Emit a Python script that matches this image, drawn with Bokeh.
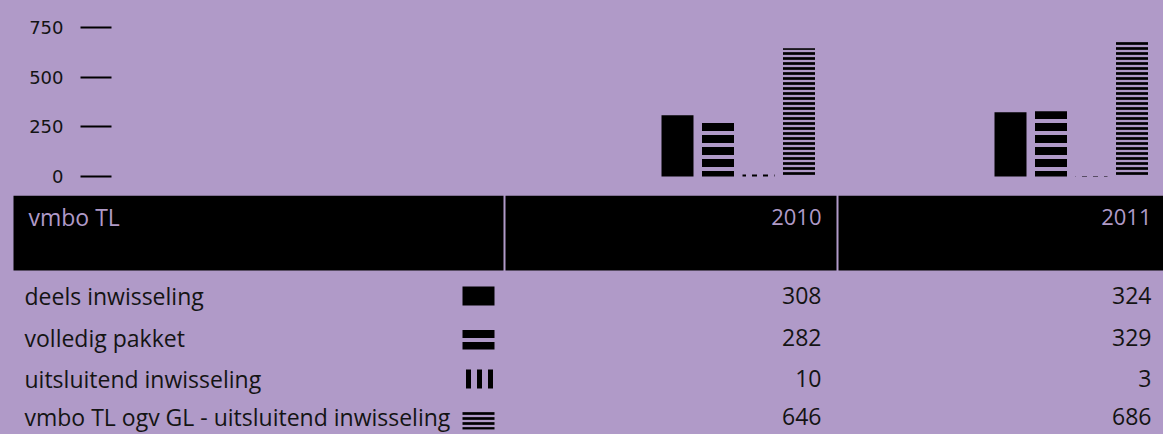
from bokeh.plotting import figure
from bokeh.layouts import column
from bokeh.models import Range1d, LinearAxis, FixedTicker
from bokeh.core.properties import value
from bokeh.embed import file_html
from bokeh.resources import INLINE

# ---------------- data ----------------
categories = ["deels inwisseling", "volledig pakket", "uitsluitend inwisseling",
              "vmbo TL ogv GL - uitsluitend inwisseling"]
years = ["2010", "2011"]
values_2010 = [308, 282, 10, 646]
values_2011 = [324, 329, 3, 686]
y_ticks = [0, 250, 500, 750]
table_title = "vmbo TL"

# ---------------- layout / style ----------------
PURPLE = "#b09ac8"
INK = "#141414"
FONT = "Open Sans"
PAGE_W, PAGE_H = 1163, 434
HEADER_TOP = 195
HEADER_BOTTOM = 270
HT = HEADER_TOP
HB = PAGE_H - HT

BASE = 176.0          # page y of value 0
PX_PER_UNIT = 0.1985  # pixels per unit
AXIS_X = 111

COL_LEFT = [504, 837]
BAR_OFFSET = 157
PITCH = 40.5
BAR_W = 32

styles = [
    dict(fill_color="black"),
    dict(fill_color=PURPLE, hatch_pattern="horizontal_line", hatch_color="black",
         hatch_weight=8, hatch_scale=12),
    dict(fill_color=PURPLE, hatch_pattern="vertical_line", hatch_color="black",
         hatch_weight=5, hatch_scale=11),
    dict(fill_color=PURPLE, hatch_pattern="horizontal_line", hatch_color="black",
         hatch_weight=2.7, hatch_scale=5),
]

# ---------------- chart ----------------
top = figure(width=PAGE_W, height=HT,
             x_range=Range1d(AXIS_X, PAGE_W),
             y_range=Range1d(-(HEADER_TOP - BASE) / PX_PER_UNIT, BASE / PX_PER_UNIT),
             toolbar_location=None, output_backend="svg",
             min_border_left=AXIS_X, min_border_right=0,
             min_border_top=0, min_border_bottom=0,
             x_axis_location=None, y_axis_location=None,
             background_fill_color=PURPLE, border_fill_color=PURPLE,
             outline_line_color=None, frame_align=False)
top.xgrid.visible = False
top.ygrid.visible = False

ax = LinearAxis(ticker=FixedTicker(ticks=y_ticks))
ax.axis_line_color = None
ax.major_tick_out = 31
ax.major_tick_in = 0
ax.major_tick_line_width = 2
ax.major_tick_line_color = "black"
ax.minor_tick_line_color = None
ax.major_label_standoff = 17
ax.major_label_text_font = "DejaVu Sans"
ax.major_label_text_font_size = "18px"
ax.major_label_text_color = INK
top.add_layout(ax, "left")

series_values = [[values_2010[i], values_2011[i]] for i in range(len(categories))]
for i, vals in enumerate(series_values):
    xs = [COL_LEFT[g] + BAR_OFFSET + i * PITCH + BAR_W / 2 for g in range(len(years))]
    top.vbar(x=xs, width=BAR_W, top=vals, bottom=0, line_color=None, **styles[i])

# ---------------- table ----------------
tab = figure(width=PAGE_W, height=HB,
             x_range=Range1d(0, PAGE_W),
             y_range=Range1d(HEADER_TOP + HB, HEADER_TOP),
             toolbar_location=None, output_backend="svg",
             min_border_left=0, min_border_right=0,
             min_border_top=0, min_border_bottom=0,
             x_axis_location=None, y_axis_location=None,
             background_fill_color=PURPLE, border_fill_color=PURPLE,
             outline_line_color=None, frame_align=False)
tab.xgrid.visible = False
tab.ygrid.visible = False

cell_left = [13] + [c + 1 for c in COL_LEFT]
cell_right = [c - 1 for c in COL_LEFT] + [PAGE_W]
tab.quad(left=cell_left, right=cell_right, top=HEADER_TOP, bottom=HEADER_BOTTOM,
         fill_color="black", line_color=None)

HEAD_Y = 216
tab.text(x=[28], y=[HEAD_Y], text=[table_title], text_color=PURPLE,
         text_font=value(FONT), text_font_size="23px",
         text_baseline="middle", text_align="left")
VAL_RIGHT = [821, 1151]
tab.text(x=VAL_RIGHT, y=[HEAD_Y] * 2, text=years, text_color=PURPLE,
         text_font=value(FONT), text_font_size="22px",
         text_baseline="middle", text_align="right")

ROW_Y = [295, 337, 378, 416]
ICON_Y = [295.5, 339, 378.5, 420]
ICON_H = [19, 20, 19, 18]
tab.text(x=[24] * len(categories), y=ROW_Y, text=categories, text_color=INK,
         text_font=value(FONT), text_font_size="23px",
         text_baseline="middle", text_align="left")

for i in range(len(categories)):
    tab.rect(x=[478], y=[ICON_Y[i]], width=32, height=ICON_H[i], line_color=None, **styles[i])

for g, vals in enumerate([values_2010, values_2011]):
    tab.text(x=[VAL_RIGHT[g]] * len(vals), y=ROW_Y, text=[str(v) for v in vals],
             text_color=INK, text_font=value(FONT), text_font_size="23px",
             text_baseline="middle", text_align="right")

layout = column(top, tab, spacing=0)

TEMPLATE = "{% block preamble %}<style>body{background:" + PURPLE + ";}</style>{% endblock %}"
open("out.html", "w").write(file_html(layout, INLINE, template=TEMPLATE))
